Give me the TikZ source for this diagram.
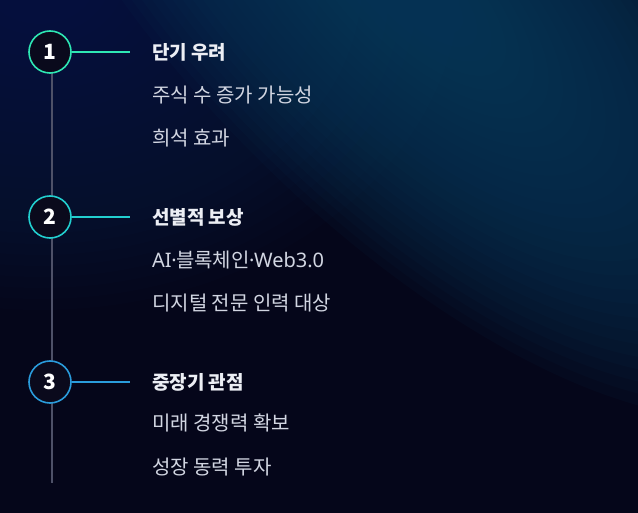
\documentclass[tikz,border=0pt]{standalone}
\usepackage{fontspec}
\setmainfont{Noto Sans CJK KR}
\newfontfamily\latinfont{Noto Sans}
\usetikzlibrary{calc}
\definecolor{bgdark}{HTML}{05061A}
\definecolor{bgtl}{HTML}{0C2250}
\definecolor{glowc}{HTML}{0B3E60}
\definecolor{cA}{HTML}{2EE8B4}
\definecolor{cB}{HTML}{22CFCF}
\definecolor{cC}{HTML}{2A9CDC}
\definecolor{spine}{HTML}{4E5168}
\definecolor{titlec}{HTML}{ECEEF4}
\definecolor{subc}{HTML}{D2D6E2}
\definecolor{circfill}{HTML}{0A0A1C}
\newcommand{\mdot}{{\latinfont\kern-0.5pt·\kern-0.5pt}}
\tikzset{
  stepcirc/.style={circle, draw=#1, line width=1.6pt, fill=circfill, minimum size=42pt, inner sep=0pt, font=\bfseries\fontsize{21}{24}\selectfont, text=white},
  ttl/.style={anchor=west, inner sep=0pt, font=\bfseries\fontsize{19}{24}\selectfont, text=titlec},
  sub/.style={anchor=west, inner sep=0pt, font=\fontsize{20}{22}\selectfont, text=subc},
  link/.style={draw=#1, line width=2pt},
}
\begin{document}
\begin{tikzpicture}[x=1pt,y=-1pt]
\useasboundingbox (0,0) rectangle (638,513);
% background
\fill[bgdark] (0,0) rectangle (638,513);
\begin{scope}
\clip (0,0) rectangle (638,513);
\foreach \i in {1,...,30}{
  \fill[bgtl, opacity=0.05] (40,-20) ellipse ({14*\i} and {11*\i});
}
\foreach \i in {1,...,30}{
  \fill[glowc, opacity=0.075, rotate around={-45:(420,-10)}] (420,-10) ellipse ({18.6*\i} and {7.8*\i});
}
\end{scope}
% spine
\coordinate (top) at (52,52);
\coordinate (bot) at (52,483);
\draw[spine, line width=2pt] (top) -- (bot);
% nodes
\node[stepcirc=cA] (n1) at (50,52) {1};
\node[stepcirc=cB] (n2) at (50,217) {2};
\node[stepcirc=cC] (n3) at (50,382) {3};
\coordinate (e1) at (130,52);
\coordinate (e2) at (130,217);
\coordinate (e3) at (130,382);
\draw[link=cA] (n1) -- (e1);
\draw[link=cB] (n2) -- (e2);
\draw[link=cC] (n3) -- (e3);
% texts
\node[ttl] (t1) at (152,52) {단기 우려};
\node[sub] (s11) at (152,95) {주식 수 증가 가능성};
\node[sub] (s12) at (152,138) {희석 효과};
\node[ttl] (t2) at (152,217) {선별적 보상};
\node[sub] (s21) at (152,260) {{\latinfont AI}\mdot 블록체인\mdot{\latinfont Web3.0}};
\node[sub] (s22) at (152,303) {디지털 전문 인력 대상};
\node[ttl] (t3) at (152,382) {중장기 관점};
\node[sub] (s31) at (152,423) {미래 경쟁력 확보};
\node[sub] (s32) at (152,467) {성장 동력 투자};
\end{tikzpicture}
\end{document}
